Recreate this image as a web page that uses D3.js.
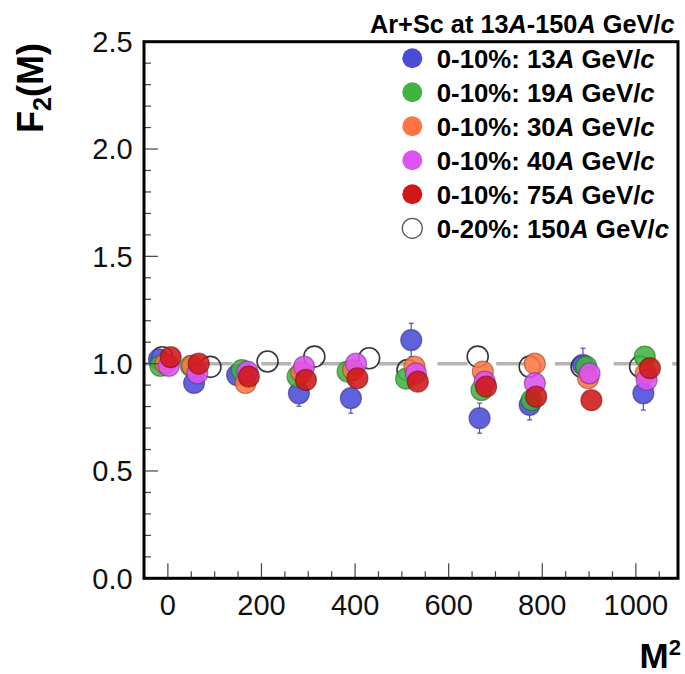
<!DOCTYPE html>
<html>
<head>
<meta charset="utf-8">
<script src="https://cdn.jsdelivr.net/npm/d3@7"></script>
<style>
  html, body { margin: 0; padding: 0; background: #fff; }
  svg { display: block; font-family: "Liberation Sans", Arial, sans-serif; }
</style>
</head>
<body>
<svg id="chart" width="685" height="674"></svg>
<script>
// Scaled factorial moment F2(M) versus M^2, Ar+Sc collisions
const seriesColors = ["none", "#4a4cd8", "#3fb440", "#ff7444", "#dc52f2", "#d01818"];

// open circles, 150A GeV/c (0-20%)
const x150 = [-12, 91, 213, 313, 430, 512, 662, 773, 884, 1009];
const y150 = [1.03, 0.985, 1.01, 1.033, 1.025, 0.97, 1.033, 0.986, 0.986, 0.986];
const e150 = [0.02, 0.02, 0.02, 0.02, 0.02, 0.02, 0.02, 0.02, 0.02, 0.02];

const x13 = [-19, 56, 148, 280, 391, 520, 666, 773, 887, 1016];
const y13 = [1.02, 0.91, 0.947, 0.862, 0.839, 1.11, 0.746, 0.808, 0.994, 0.862];
const e13 = [0.03, 0.05, 0.03, 0.06, 0.07, 0.078, 0.07, 0.07, 0.078, 0.078];

const x19 = [-16, 49, 158, 277, 384, 509, 670, 777, 894, 1019];
const y19 = [0.99, 0.99, 0.97, 0.94, 0.963, 0.93, 0.877, 0.83, 0.986, 1.033];
const e19 = [0.03, 0.03, 0.03, 0.04, 0.04, 0.04, 0.04, 0.04, 0.05, 0.05];

const x30 = [-5, 52, 166, 285, 396, 527, 673, 784, 898, 1021];
const y30 = [1.0, 0.99, 0.91, 0.96, 0.97, 0.986, 0.963, 1.0, 0.932, 0.955];
const e30 = [0.02, 0.02, 0.03, 0.03, 0.03, 0.03, 0.03, 0.04, 0.04, 0.04];

const x40 = [2, 63, 170, 291, 402, 530, 677, 784, 901, 1023];
const y40 = [0.99, 0.955, 0.963, 0.986, 1.0, 0.955, 0.916, 0.909, 0.955, 0.924];
const e40 = [0.02, 0.02, 0.03, 0.03, 0.03, 0.03, 0.03, 0.04, 0.04, 0.04];

const x75 = [6, 66, 173, 295, 405, 534, 680, 787, 905, 1030];
const y75 = [1.03, 1.0, 0.94, 0.924, 0.932, 0.916, 0.893, 0.846, 0.83, 0.979];
const e75 = [0.02, 0.02, 0.03, 0.03, 0.03, 0.03, 0.03, 0.04, 0.04, 0.04];

const xTicks = [0, 200, 400, 600, 800, 1000];
const yTicks = [0.0, 0.5, 1.0, 1.5, 2.0, 2.5];

// legend rows (drawn top to bottom)
const legendEnergies = ["13", "19", "30", "40", "75", "150"];
const legendCentrality = ["0-10%", "0-10%", "0-10%", "0-10%", "0-10%", "0-20%"];
const legendColors = ["#4a4cd8", "#3fb440", "#ff7444", "#dc52f2", "#d01818", "none"];

const svg = d3.select("#chart");
const frame = { left: 144, right: 678, top: 41.7, bottom: 578.3 };

const x = d3.scaleLinear().domain([-51, 1090]).range([frame.left, frame.right]);
const y = d3.scaleLinear().domain([0, 2.5]).range([frame.bottom, frame.top]);

// reference line at F2 = 1
svg.append("line")
  .attr("x1", frame.left).attr("x2", frame.right)
  .attr("y1", y(1)).attr("y2", y(1))
  .attr("stroke", "#b4b4b4").attr("stroke-width", 3.5)
  .attr("stroke-dasharray", "30 28.7");

// data series: error bars (outside the marker) then markers
const series = [
  { xs: x150, ys: y150, es: e150, color: seriesColors[0] },
  { xs: x13, ys: y13, es: e13, color: seriesColors[1] },
  { xs: x19, ys: y19, es: e19, color: seriesColors[2] },
  { xs: x30, ys: y30, es: e30, color: seriesColors[3] },
  { xs: x40, ys: y40, es: e40, color: seriesColors[4] },
  { xs: x75, ys: y75, es: e75, color: seriesColors[5] }
];

const R = 10.5;
series.forEach(s => {
  const pts = s.xs.map((v, i) => ({ x: v, y: s.ys[i], e: s.es[i] }));
  const g = svg.append("g");
  const barColor = s.color === "none" ? "#222" : s.color;
  // only bars that reach beyond the marker edge are drawn
  const withBars = pts.filter(d => y(d.y) - y(d.y + d.e) > R + 1);
  const eb = g.selectAll("g.eb").data(withBars).join("g");
  [-1, 1].forEach(sign => {
    eb.append("line")
      .attr("x1", d => x(d.x)).attr("x2", d => x(d.x))
      .attr("y1", d => y(d.y) - sign * R).attr("y2", d => y(d.y + sign * d.e))
      .attr("stroke", barColor).attr("stroke-width", 1.2);
    eb.append("line")
      .attr("x1", d => x(d.x) - 2.5).attr("x2", d => x(d.x) + 2.5)
      .attr("y1", d => y(d.y + sign * d.e)).attr("y2", d => y(d.y + sign * d.e))
      .attr("stroke", barColor).attr("stroke-width", 1.2);
  });
  g.selectAll("circle").data(pts).join("circle")
    .attr("cx", d => x(d.x)).attr("cy", d => y(d.y)).attr("r", R)
    .attr("fill", s.color)
    .attr("fill-opacity", s.color === "none" ? 0 : 0.88)
    .attr("stroke", s.color === "none" ? "#222" : d3.color(s.color).darker(1.6))
    .attr("stroke-opacity", s.color === "none" ? 0.9 : 0.6)
    .attr("stroke-width", s.color === "none" ? 1.6 : 1.2);
});

// axes ticks (inward)
const tickG = svg.append("g").attr("stroke", "#444").attr("stroke-width", 1.2);
d3.range(0, 2.51, 0.1).forEach(v => {
  const major = Math.abs(v / 0.5 - Math.round(v / 0.5)) < 1e-6;
  tickG.append("line")
    .attr("x1", frame.left).attr("x2", frame.left + (major ? 14 : 7))
    .attr("y1", y(v)).attr("y2", y(v));
});
d3.range(0, 1090, 50).forEach(v => {
  const major = v % 200 === 0;
  tickG.append("line")
    .attr("x1", x(v)).attr("x2", x(v))
    .attr("y1", frame.bottom).attr("y2", frame.bottom - (major ? 15 : 7));
});

// frame
svg.append("rect")
  .attr("x", frame.left).attr("y", frame.top)
  .attr("width", frame.right - frame.left).attr("height", frame.bottom - frame.top)
  .attr("fill", "none").attr("stroke", "#000").attr("stroke-width", 3);

// tick labels
svg.append("g").selectAll("text").data(yTicks).join("text")
  .attr("x", 132.7).attr("y", d => y(d)).attr("dy", "0.36em")
  .attr("text-anchor", "end").attr("font-size", 29).attr("fill", "#111")
  .text(d => d.toFixed(1));

svg.append("g").selectAll("text").data(xTicks).join("text")
  .attr("x", d => x(d)).attr("y", 615)
  .attr("text-anchor", "middle").attr("font-size", 29).attr("fill", "#111")
  .text(d => d);

// axis titles
const yTitle = svg.append("text")
  .attr("transform", "translate(43,88) rotate(-90)")
  .attr("text-anchor", "middle").attr("font-size", 36).attr("font-weight", "bold");
yTitle.append("tspan").text("F");
yTitle.append("tspan").attr("font-size", 25).attr("dy", 8).text("2");
yTitle.append("tspan").attr("dy", -8).text("(M)");

const xTitle = svg.append("text")
  .attr("x", 681).attr("y", 668)
  .attr("text-anchor", "end").attr("font-size", 35).attr("font-weight", "bold");
xTitle.append("tspan").text("M");
xTitle.append("tspan").attr("font-size", 22).attr("dy", -13).text("2");

// legend header
const header = svg.append("text")
  .attr("x", 370).attr("y", 33).attr("font-size", 25.3).attr("font-weight", "bold");
header.append("tspan").text("Ar+Sc at 13");
header.append("tspan").attr("font-style", "italic").text("A");
header.append("tspan").text("-150");
header.append("tspan").attr("font-style", "italic").text("A");
header.append("tspan").text(" GeV/");
header.append("tspan").attr("font-style", "italic").text("c");

// legend entries
const legendTop = 58.3, legendStep = 34;
legendEnergies.forEach((en, i) => {
  const cy = legendTop + i * legendStep;
  const c = legendColors[i];
  svg.append("circle")
    .attr("cx", 412.3).attr("cy", cy).attr("r", 10)
    .attr("fill", c === "none" ? "none" : c)
    .attr("stroke", c === "none" ? "#555" : "none")
    .attr("stroke-width", 1.3);
  const t = svg.append("text")
    .attr("x", 436.7).attr("y", cy).attr("dy", "0.36em")
    .attr("font-size", 25.8).attr("font-weight", "bold");
  t.append("tspan").text(legendCentrality[i] + ": " + en);
  t.append("tspan").attr("font-style", "italic").text("A");
  t.append("tspan").text(" GeV/");
  t.append("tspan").attr("font-style", "italic").text("c");
});
</script>
</body>
</html>
